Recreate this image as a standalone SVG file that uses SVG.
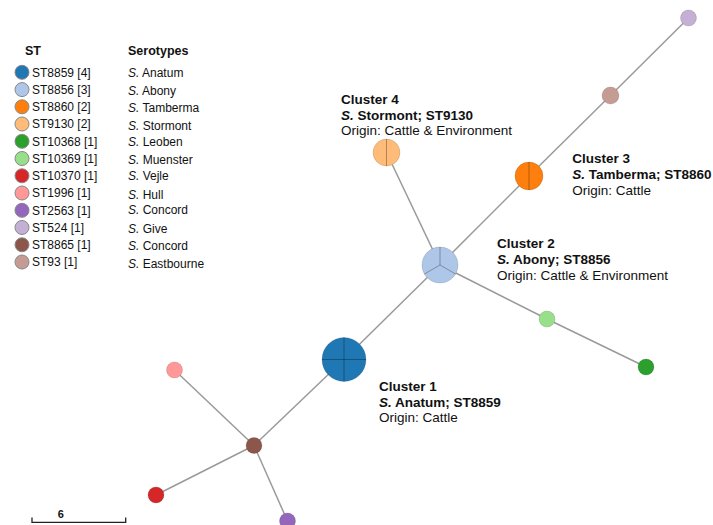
<svg xmlns="http://www.w3.org/2000/svg" width="713" height="525" viewBox="0 0 713 525">
<style>
text{font-family:"Liberation Sans",Arial,sans-serif;fill:#111}
.lg{font-size:12px}
.hd{font-size:12.5px;font-weight:bold}
.cl{font-size:13.5px}
.b{font-weight:bold}
.i{font-style:italic}
.edge{stroke:#9a9a9a;stroke-width:1.5;fill:none}
.div{stroke:#000;stroke-opacity:0.3;stroke-width:1;fill:none}
.lc{stroke:#888;stroke-width:1}
.nd{stroke:#000;stroke-opacity:0.12;stroke-width:1}
</style>
<rect width="713" height="525" fill="#fff"/>
<g id="legend">
<text class="hd" x="25" y="55">ST</text>
<text class="hd" x="128" y="55">Serotypes</text>
<g class="lg">
<circle class="lc" cx="22" cy="72.3" r="7" fill="#1f77b4"/><text x="32" y="76.6">ST8859 [4]</text><text x="128" y="77"><tspan class="i">S.</tspan> Anatum</text>
<circle class="lc" cx="22" cy="89.6" r="7" fill="#aec7e8"/><text x="32" y="93.9">ST8856 [3]</text><text x="128" y="95"><tspan class="i">S.</tspan> Abony</text>
<circle class="lc" cx="22" cy="106.8" r="7" fill="#ff7f0e"/><text x="32" y="111.1">ST8860 [2]</text><text x="128" y="112"><tspan class="i">S.</tspan> Tamberma</text>
<circle class="lc" cx="22" cy="124" r="7" fill="#ffbb78"/><text x="32" y="128.3">ST9130 [2]</text><text x="128" y="130"><tspan class="i">S.</tspan> Stormont</text>
<circle class="lc" cx="22" cy="141.3" r="7" fill="#2ca02c"/><text x="32" y="145.6">ST10368 [1]</text><text x="128" y="145.6"><tspan class="i">S.</tspan> Leoben</text>
<circle class="lc" cx="22" cy="158.5" r="7" fill="#98df8a"/><text x="32" y="162.8">ST10369 [1]</text><text x="128" y="164"><tspan class="i">S.</tspan> Muenster</text>
<circle class="lc" cx="22" cy="175.8" r="7" fill="#d62728"/><text x="32" y="180.1">ST10370 [1]</text><text x="128" y="180.1"><tspan class="i">S.</tspan> Vejle</text>
<circle class="lc" cx="22" cy="193" r="7" fill="#ff9896"/><text x="32" y="197.3">ST1996 [1]</text><text x="128" y="198.5"><tspan class="i">S.</tspan> Hull</text>
<circle class="lc" cx="22" cy="210.3" r="7" fill="#9467bd"/><text x="32" y="214.6">ST2563 [1]</text><text x="128" y="213.5"><tspan class="i">S.</tspan> Concord</text>
<circle class="lc" cx="22" cy="227.5" r="7" fill="#c5b0d5"/><text x="32" y="231.8">ST524 [1]</text><text x="128" y="232.5"><tspan class="i">S.</tspan> Give</text>
<circle class="lc" cx="22" cy="244.8" r="7" fill="#8c564b"/><text x="32" y="249.1">ST8865 [1]</text><text x="128" y="249.5"><tspan class="i">S.</tspan> Concord</text>
<circle class="lc" cx="22" cy="262" r="7" fill="#c49c94"/><text x="32" y="266.3">ST93 [1]</text><text x="128" y="267.5"><tspan class="i">S.</tspan> Eastbourne</text>
</g>
</g>
<g id="edges">
<line class="edge" x1="254" y1="445.5" x2="174.5" y2="370"/>
<line class="edge" x1="254" y1="445.5" x2="156" y2="495"/>
<line class="edge" x1="254" y1="445.5" x2="287.5" y2="521"/>
<line class="edge" x1="254" y1="445.5" x2="344" y2="359.5"/>
<line class="edge" x1="344" y1="359.5" x2="440" y2="265"/>
<line class="edge" x1="440" y1="265" x2="386.5" y2="152.5"/>
<line class="edge" x1="440" y1="265" x2="529" y2="176"/>
<line class="edge" x1="440" y1="265" x2="547" y2="319"/>
<line class="edge" x1="547" y1="319" x2="646" y2="367"/>
<line class="edge" x1="529" y1="176" x2="610.5" y2="95.5"/>
<line class="edge" x1="610.5" y1="95.5" x2="688.5" y2="18"/>
</g>
<g id="ST8859"><circle class="nd" cx="344" cy="359.5" r="22" fill="#1f77b4"/><path class="div" d="M344 337.5V381.5M322 359.5H366"/></g>
<g id="ST8856"><circle class="nd" cx="440" cy="265" r="18" fill="#aec7e8"/><path class="div" d="M440 265V247M440 265L424.4 274M440 265L455.6 274"/></g>
<g id="ST8860"><circle class="nd" cx="529" cy="176" r="14" fill="#ff7f0e"/><path class="div" d="M529 162V190"/></g>
<g id="ST9130"><circle class="nd" cx="386.5" cy="152.5" r="13.5" fill="#ffbb78"/><path class="div" d="M386.5 139V166"/></g>
<g id="ST10368"><circle class="nd" cx="646" cy="367" r="8" fill="#2ca02c"/></g>
<g id="ST10369"><circle class="nd" cx="547" cy="319" r="8" fill="#98df8a"/></g>
<g id="ST10370"><circle class="nd" cx="156" cy="495" r="8" fill="#d62728"/></g>
<g id="ST1996"><circle class="nd" cx="174.5" cy="370" r="8" fill="#ff9896"/></g>
<g id="ST2563"><circle class="nd" cx="287.5" cy="521" r="8" fill="#9467bd"/></g>
<g id="ST524"><circle class="nd" cx="688.5" cy="18" r="8" fill="#c5b0d5"/></g>
<g id="ST8865"><circle class="nd" cx="254" cy="445.5" r="8" fill="#8c564b"/></g>
<g id="ST93"><circle class="nd" cx="610.5" cy="95.5" r="8.5" fill="#c49c94"/></g>
<g id="cluster1" class="cl"><text class="b" x="379" y="391">Cluster 1</text><text class="b" x="379" y="406.7"><tspan class="i">S.</tspan> Anatum; ST8859</text><text x="379" y="421.7">Origin: Cattle</text></g>
<g id="cluster2" class="cl"><text class="b" x="497" y="248.3">Cluster 2</text><text class="b" x="497" y="264.3"><tspan class="i">S.</tspan> Abony; ST8856</text><text x="497" y="280">Origin: Cattle &amp; Environment</text></g>
<g id="cluster3" class="cl"><text class="b" x="572.3" y="163.3">Cluster 3</text><text class="b" x="572.3" y="179"><tspan class="i">S.</tspan> Tamberma; ST8860</text><text x="572.3" y="194.5">Origin: Cattle</text></g>
<g id="cluster4" class="cl"><text class="b" x="341" y="104.3">Cluster 4</text><text class="b" x="341" y="120"><tspan class="i">S.</tspan> Stormont; ST9130</text><text x="341" y="135.3">Origin: Cattle &amp; Environment</text></g>
<g id="scale">
<path d="M32 517.5V522.3H125.7V517.5" fill="none" stroke="#222" stroke-width="1.3"/>
<text x="60.7" y="517.7" text-anchor="middle" style="font-size:11px;font-weight:bold">6</text>
</g>
</svg>
